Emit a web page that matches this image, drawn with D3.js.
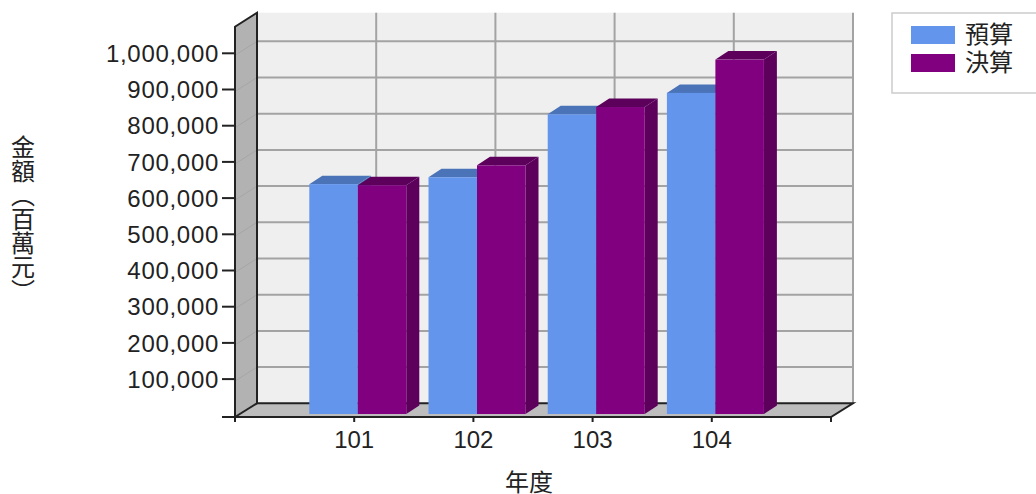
<!DOCTYPE html>
<html>
<head>
<meta charset="utf-8">
<script src="https://cdn.jsdelivr.net/npm/d3@7"></script>
<style>
  html, body { margin: 0; padding: 0; background: #fff; }
  svg { display: block; }
  text { font-family: "Liberation Sans", sans-serif; fill: #222; }
  .cjk { font-family: "Noto Sans CJK TC", sans-serif; }
</style>
</head>
<body>
<svg id="chart" width="1036" height="494"></svg>
<script>
const years = ['101', '102', '103', '104'];
const budget = [635000, 654000, 828000, 887000];
const actual = [632000, 687000, 848000, 979000];
const seriesNames = ['預算', '決算'];
const yTicks = [100000, 200000, 300000, 400000, 500000, 600000, 700000, 800000, 900000, 1000000];

const svg = d3.select('#chart');

// wall depth of the 3d box, and depth of the bars themselves
const depthX = 22, depthY = 14;
const barDepthX = 13, barDepthY = 8.5;

const x = d3.scalePoint().domain(['start', ...years, 'end']).range([235, 831]);
// y is measured on the back wall
const y = d3.scaleLinear().domain([0, 1000000]).range([403.3, 41.3]);
const frontBase = 417;
const barOffset = 10.7; // bars stand this far in front of the back wall floor
const barW = 48.5;

const wallTop = 12.7;
const backL = x('start') + depthX, backR = x('end') + depthX, backB = y(0);

// back wall
svg.append('rect').attr('x', backL).attr('y', wallTop)
  .attr('width', backR - backL).attr('height', backB - wallTop).attr('fill', '#efefef');

// left wall and floor
svg.append('polygon')
  .attr('points', [[x('start'), wallTop + depthY], [backL, wallTop], [backL, backB], [x('start'), frontBase]].join(' '))
  .attr('fill', '#b2b2b2');
svg.append('polygon')
  .attr('points', [[x('start'), frontBase], [backL, backB], [backR, backB], [x('end'), frontBase]].join(' '))
  .attr('fill', '#bdbdbd');

// gridlines
const gridColor = '#a3a3a3';
svg.append('g').selectAll('line').data(yTicks).join('line')
  .attr('x1', backL).attr('x2', backR)
  .attr('y1', d => y(d)).attr('y2', d => y(d))
  .attr('stroke', gridColor).attr('stroke-width', 2);
svg.append('g').selectAll('line').data(yTicks).join('line')
  .attr('x1', x('start')).attr('x2', backL)
  .attr('y1', d => y(d) + depthY).attr('y2', d => y(d))
  .attr('stroke', '#a6a6a6').attr('stroke-width', 1);
svg.append('g').selectAll('line').data([...years, 'end']).join('line')
  .attr('x1', d => x(d) + depthX).attr('x2', d => x(d) + depthX)
  .attr('y1', wallTop).attr('y2', backB)
  .attr('stroke', gridColor).attr('stroke-width', 2);

// box outline
const ink = '#222';
svg.append('path')
  .attr('d', `M${x('start')},${frontBase}V${wallTop + depthY}L${backL},${wallTop}V${backB}H${backR}L${x('end')},${frontBase}Z`)
  .attr('fill', 'none').attr('stroke', ink).attr('stroke-width', 2);
svg.append('line').attr('x1', x('start')).attr('x2', backL)
  .attr('y1', frontBase).attr('y2', backB).attr('stroke', ink).attr('stroke-width', 2);

// bars
const barBase = y(0) + barOffset;
const barH = d => y(0) - y(d);
const colors = [
  { front: '#6495ed', top: '#4a73b8', side: '#4a73b8' },
  { front: '#800080', top: '#5c005c', side: '#5c005c' }
];
[budget, actual].forEach((values, s) => {
  const c = colors[s];
  const g = svg.append('g');
  const left = i => x(years[i]) + 3.6 + (s - 1) * barW;
  values.forEach((v, i) => {
    const bx = left(i), top = barBase - barH(v);
    g.append('polygon')
      .attr('points', [[bx + barW, top], [bx + barW + barDepthX, top - barDepthY], [bx + barW + barDepthX, barBase - barDepthY], [bx + barW, barBase]].join(' '))
      .attr('fill', c.side);
    g.append('polygon')
      .attr('points', [[bx, top], [bx + barDepthX, top - barDepthY], [bx + barW + barDepthX, top - barDepthY], [bx + barW, top]].join(' '))
      .attr('fill', c.top);
    g.append('rect').attr('x', bx).attr('y', top)
      .attr('width', barW).attr('height', barBase - top).attr('fill', c.front);
  });
});

// ticks and labels
const yAxis = svg.append('g');
yAxis.selectAll('line').data([0, ...yTicks]).join('line')
  .attr('x1', x('start') - 13).attr('x2', x('start'))
  .attr('y1', d => d === 0 ? frontBase : y(d) + 12)
  .attr('y2', d => d === 0 ? frontBase : y(d) + 12)
  .attr('stroke', ink).attr('stroke-width', 2);
yAxis.selectAll('text').data(yTicks).join('text')
  .attr('x', 219).attr('y', d => y(d) + 12)
  .attr('dy', '0.36em').attr('text-anchor', 'end')
  .attr('font-size', 24).attr('letter-spacing', 0.7)
  .text(d3.format(','));

const xAxis = svg.append('g');
xAxis.selectAll('line').data(['start', ...years, 'end']).join('line')
  .attr('x1', d => x(d)).attr('x2', d => x(d))
  .attr('y1', frontBase).attr('y2', frontBase + 5)
  .attr('stroke', ink).attr('stroke-width', 2);
xAxis.selectAll('text').data(years).join('text')
  .attr('x', d => x(d)).attr('y', 448)
  .attr('text-anchor', 'middle').attr('font-size', 24)
  .text(d => d);

// axis titles
svg.append('text').attr('class', 'cjk')
  .attr('x', 529).attr('y', 491).attr('text-anchor', 'middle')
  .attr('font-size', 24).text('年度');
svg.append('text').attr('class', 'cjk')
  .attr('x', 23).attr('y', 135)
  .attr('font-size', 24).style('writing-mode', 'vertical-rl')
  .text('金額（百萬元）');

// legend
svg.append('path').attr('d', 'M1036,13H892V93H1036')
  .attr('fill', 'none').attr('stroke', '#ccc').attr('stroke-width', 1.5);
const legend = svg.append('g').selectAll('g').data(seriesNames).join('g')
  .attr('transform', (d, i) => `translate(911,${26 + i * 28})`);
legend.append('rect').attr('width', 44).attr('height', 18)
  .attr('fill', (d, i) => colors[i].front);
legend.append('text').attr('class', 'cjk')
  .attr('x', 54).attr('y', 17).attr('font-size', 24)
  .text(d => d);
</script>
</body>
</html>
